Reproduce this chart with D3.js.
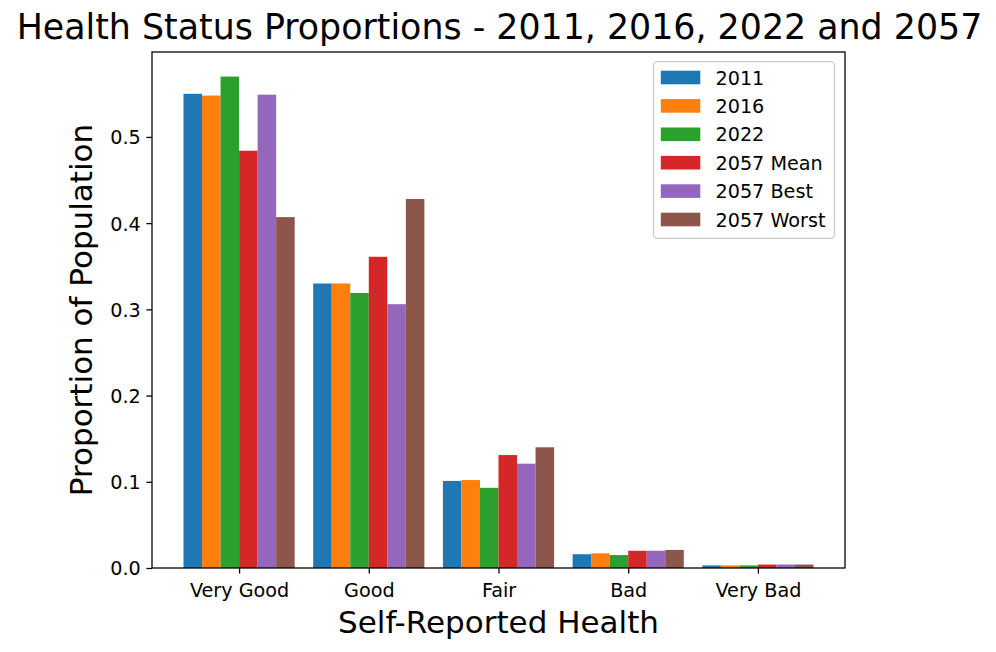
<!DOCTYPE html>
<html>
<head>
<meta charset="utf-8">
<script src="https://cdn.jsdelivr.net/npm/d3@7"></script>
<style>
  html, body { margin: 0; padding: 0; background: #ffffff; }
  svg { display: block; font-family: "DejaVu Sans", sans-serif; }
</style>
</head>
<body>
<svg id="chart" width="996" height="652"></svg>
<script>
// ---- Data ----
const categories = ["Very Good", "Good", "Fair", "Bad", "Very Bad"];
const seriesNames = ["2011", "2016", "2022", "2057 Mean", "2057 Best", "2057 Worst"];
const values2011      = [0.550, 0.330, 0.101, 0.016, 0.003];
const values2016      = [0.548, 0.330, 0.102, 0.017, 0.003];
const values2022      = [0.570, 0.319, 0.093, 0.015, 0.003];
const values2057Mean  = [0.484, 0.361, 0.131, 0.020, 0.004];
const values2057Best  = [0.549, 0.306, 0.121, 0.020, 0.004];
const values2057Worst = [0.407, 0.428, 0.140, 0.021, 0.004];
const yTicks = [0.0, 0.1, 0.2, 0.3, 0.4, 0.5];
const titleText = "Health Status Proportions - 2011, 2016, 2022 and 2057";
const xLabel = "Self-Reported Health";
const yLabel = "Proportion of Population";

const allSeries = [values2011, values2016, values2022, values2057Mean, values2057Best, values2057Worst];
const colors = ["#1f77b4", "#ff7f0e", "#2ca02c", "#d62728", "#9467bd", "#8c564b"];

// ---- Layout ----
const svg = d3.select("#chart");
const L = 152, R = 845, T = 52, B = 568;
const nS = seriesNames.length;
const barW = 1 / (nS + 1);

const xMin = -(nS / 2) * barW, xMax = (categories.length - 1) + (nS / 2) * barW;
const xPad = (xMax - xMin) * 0.05;
const x = d3.scaleLinear().domain([xMin - xPad, xMax + xPad]).range([L, R]);

const maxV = d3.max(allSeries.flat());
const y = d3.scaleLinear().domain([0, maxV * 1.05]).range([B, T]);

svg.append("rect").attr("width", 996).attr("height", 652).attr("fill", "#ffffff");

// ---- Bars ----
const barData = [];
allSeries.forEach((vals, si) => {
  vals.forEach((v, ci) => {
    barData.push({ si, ci, v });
  });
});
svg.append("g").selectAll("rect").data(barData).join("rect")
  .attr("x", d => x(d.ci + (d.si - (nS - 1) / 2) * barW - barW / 2))
  .attr("width", d => x(barW) - x(0))
  .attr("y", d => y(d.v))
  .attr("height", d => y(0) - y(d.v))
  .attr("fill", d => colors[d.si]);

// ---- Axes ----
const tickLen = 5.6, tickPad = 5.6;
const xAxis = d3.axisBottom(x)
  .tickValues(d3.range(categories.length))
  .tickFormat(i => categories[i])
  .tickSize(tickLen).tickPadding(tickPad).tickSizeOuter(0);
const gx = svg.append("g").attr("transform", `translate(0,${B})`).call(xAxis);
const yAxis = d3.axisLeft(y)
  .tickValues(yTicks)
  .tickFormat(d3.format(".1f"))
  .tickSize(tickLen).tickPadding(tickPad).tickSizeOuter(0);
const gy = svg.append("g").attr("transform", `translate(${L},0)`).call(yAxis);

[gx, gy].forEach(g => {
  g.select(".domain").remove();
  g.selectAll(".tick line").attr("stroke", "#000").attr("stroke-width", 1.28);
  g.selectAll(".tick text").attr("fill", "#000")
    .style("font-family", "'DejaVu Sans', sans-serif").style("font-size", "19.2px");
});
gx.selectAll(".tick text").attr("dy", "0.95em");
gy.selectAll(".tick text").attr("dy", "0.36em");

// spines
svg.append("rect").attr("x", L).attr("y", T).attr("width", R - L).attr("height", B - T)
  .attr("fill", "none").attr("stroke", "#000").attr("stroke-width", 1.28);

// ---- Title & labels ----
svg.append("text").attr("x", (L + R) / 2 + 1).attr("y", 38.5)
  .attr("text-anchor", "middle").style("font-size", "34.8px").attr("fill", "#000")
  .text(titleText);
svg.append("text").attr("x", (L + R) / 2).attr("y", 632.5)
  .attr("text-anchor", "middle").style("font-size", "31px").attr("fill", "#000")
  .text(xLabel);
svg.append("text")
  .attr("transform", `translate(92,${(T + B) / 2}) rotate(-90)`)
  .attr("text-anchor", "middle").style("font-size", "31px").attr("fill", "#000")
  .text(yLabel);

// ---- Legend ----
const lg = svg.append("g");
lg.append("rect").attr("x", 653.5).attr("y", 61.7).attr("width", 181).attr("height", 176.6)
  .attr("rx", 3.5).attr("ry", 3.5)
  .attr("fill", "#ffffff").attr("fill-opacity", 0.8)
  .attr("stroke", "#cccccc").attr("stroke-width", 1.28);
const rowY = d3.scaleLinear().domain([0, nS - 1]).range([77.5, 219.5]);
seriesNames.forEach((name, i) => {
  lg.append("rect").attr("x", 660.8).attr("y", rowY(i) - 6.8)
    .attr("width", 39.5).attr("height", 13.6).attr("fill", colors[i]);
  lg.append("text").attr("x", 715.5).attr("y", rowY(i) + 7)
    .style("font-size", "19.2px").attr("fill", "#000").text(name);
});
</script>
</body>
</html>
